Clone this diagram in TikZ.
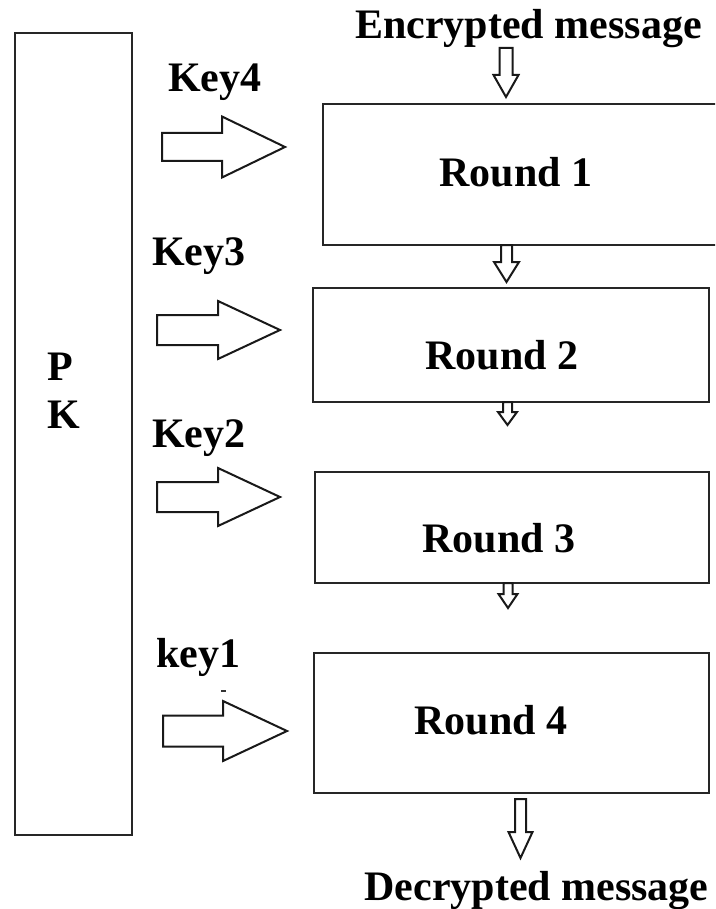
\documentclass[tikz,border=0pt]{standalone}
\usepackage{fontspec}
\setmainfont{Liberation Serif}
\usetikzlibrary{calc}
\tikzset{
  box/.style={draw=black!85, line width=2pt, inner sep=0pt},
  lbl/.style={font=\bfseries\fontsize{42}{48}\selectfont, inner sep=0pt},
  blk/.style={draw=black!90, line width=2pt, fill=white, line join=miter},
  rarr/.style n args={3}{to path={let \p1=(\tikztostart),\p2=(\tikztotarget) in
     (\x1,\y1+#1pt) -- (\x2-#3pt,\y1+#1pt) -- (\x2-#3pt,\y1+#2pt) -- (\x2,\y2)
     -- (\x2-#3pt,\y1-#2pt) -- (\x2-#3pt,\y1-#1pt) -- (\x1,\y1-#1pt) -- cycle}},
  darr/.style n args={3}{to path={let \p1=(\tikztostart),\p2=(\tikztotarget) in
     (\x1-#1pt,\y1) -- (\x1+#1pt,\y1) -- (\x1+#1pt,\y2+#3pt) -- (\x1+#2pt,\y2+#3pt)
     -- (\x2,\y2) -- (\x1-#2pt,\y2+#3pt) -- (\x1-#1pt,\y2+#3pt) -- cycle}},
}
\begin{document}
\begin{tikzpicture}[x=1pt,y=-1pt]
\useasboundingbox (0,0) rectangle (715,909);
\clip (0,0) rectangle (715,909);
\fill[white] (0,0) rectangle (715,909);

% PK box
\node[box, minimum width=117pt, minimum height=802pt] (pk) at (73.5,434) {};
\node[lbl, anchor=base west] (p) at (47,380) {P};
\node[lbl, anchor=base west] (k) at (47,428) {K};

% Round boxes
\node[box, minimum width=402pt, minimum height=141pt] (r1) at (524,174.5) {};
\node[box, minimum width=396pt, minimum height=114pt] (r2) at (511,345) {};
\node[box, minimum width=394pt, minimum height=111pt] (r3) at (512,527.5) {};
\node[box, minimum width=395pt, minimum height=140pt] (r4) at (511.5,723) {};

\node[lbl, anchor=base] (t1) at (516,187) {Round 1};
\node[lbl, anchor=base] (t2) at (502,369) {Round 2};
\node[lbl, anchor=base] (t3) at (499,552) {Round 3};
\node[lbl, anchor=base] (t4) at (491,734) {Round 4};

% texts
\node[lbl, anchor=base] (enc) at (528.5,39) {Encrypted message};
\node[lbl, anchor=base] (dec) at (536.5,900) {Decrypted message};
\node[lbl, anchor=base west] (key4) at (168,92) {Key4};
\node[lbl, anchor=base west] (key3) at (152,265) {Key3};
\node[lbl, anchor=base west] (key2) at (152,447) {Key2};
\node[lbl, anchor=base west] (key1) at (156,667) {key1};

% key arrows
\coordinate (k4s) at (162,147); \coordinate (k4t) at (285,147);
\coordinate (k3s) at (157,330); \coordinate (k3t) at (280,330);
\coordinate (k2s) at (157,497); \coordinate (k2t) at (280,497);
\coordinate (k1s) at (163,731); \coordinate (k1t) at (287,731);
\draw[blk] (k4s) to[rarr={14}{30.5}{63}] (k4t);
\draw[blk] (k3s) to[rarr={15}{29}{62}] (k3t);
\draw[blk] (k2s) to[rarr={15}{29}{62}] (k2t);
\draw[blk] (k1s) to[rarr={15.5}{30}{64}] (k1t);
\coordinate (m1) at (221,691); \coordinate (m2) at (226,691);
\draw[line width=2pt, black!80] (m1) -- (m2);

% down arrows
\coordinate (a0s) at (506,48);  \coordinate (a0t) at (506,97);
\coordinate (a1s) at (506.5,245); \coordinate (a1t) at (506.5,282);
\coordinate (a2s) at (507.5,402); \coordinate (a2t) at (507.5,425);
\coordinate (a3s) at (508,583);  \coordinate (a3t) at (508,608);
\coordinate (a4s) at (520.5,799); \coordinate (a4t) at (520.5,858);
\draw[blk] (a0s) to[darr={6.5}{12.5}{22}] (a0t);
\draw[blk] (a1s) to[darr={5.5}{12.5}{20}] (a1t);
\draw[blk] (a2s) to[darr={4.5}{9.5}{13}] (a2t);
\draw[blk] (a3s) to[darr={4.5}{9.5}{14}] (a3t);
\draw[blk] (a4s) to[darr={5.5}{12}{26}] (a4t);
\end{tikzpicture}
\end{document}
